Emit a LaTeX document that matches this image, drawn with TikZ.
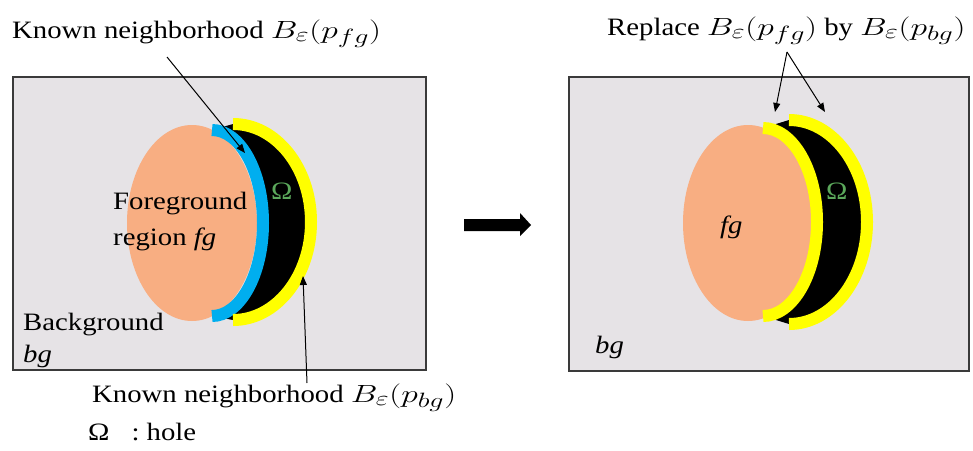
\documentclass[tikz,border=0pt]{standalone}
\usepackage{fontspec}
\setmainfont{Liberation Serif}[FakeStretch=1.15]
\usetikzlibrary{arrows.meta}
\definecolor{panelgrey}{HTML}{E6E3E6}
\definecolor{fgorange}{HTML}{F8AE82}
\definecolor{nbblue}{HTML}{00AEEF}
\definecolor{nbyellow}{HTML}{FFFF00}
\definecolor{omgreen}{HTML}{5BA85B}
\definecolor{frame}{HTML}{3A3A3A}
\newcommand{\wmath}[1]{\scalebox{1.35}[1]{\fontsize{30}{32}\selectfont$#1$}}
\newcommand{\Bnb}[1]{\wmath{B_\varepsilon(p_{#1})}}
\tikzset{
  panel/.style={fill=panelgrey, draw=frame, line width=1.4pt},
  lbl/.style={inner sep=0pt, anchor=base west, font=\fontsize{25}{30}\selectfont},
  pointer/.style={draw=black, line width=1pt, -{Triangle[length=9pt,width=7pt]}},
  band/.style={line width=12pt},
}
\begin{document}
\begin{tikzpicture}[x=1pt,y=-1pt]
\useasboundingbox (0,0) rectangle (973,450);
% panels
\path[panel] (13,77) rectangle (426,370);
\path[panel] (569,77) rectangle (969,371);

% ---------- left panel shapes ----------
\fill[fgorange] (192,223) ellipse [x radius=65, y radius=98];
\fill[black] (233,124) arc[start angle=-90, end angle=90, x radius=78, y radius=98]
   -- (212,316) arc[start angle=90, end angle=-90, x radius=51, y radius=93] -- cycle;
\draw[band, nbblue] (212,130) arc[start angle=-90, end angle=90, x radius=51, y radius=93];
\draw[band, nbyellow] (233,124) arc[start angle=-90, end angle=90, x radius=78, y radius=98];

% ---------- right panel shapes ----------
\fill[fgorange] (748,223) ellipse [x radius=65, y radius=98];
\fill[black] (789,120) arc[start angle=-90, end angle=90, x radius=78, y radius=102]
   -- (763,316) arc[start angle=90, end angle=-90, x radius=54, y radius=94] -- cycle;
\draw[band, nbyellow] (763,128) arc[start angle=-90, end angle=90, x radius=54, y radius=94];
\draw[band, nbyellow] (789,120) arc[start angle=-90, end angle=90, x radius=78, y radius=102];

% ---------- big arrow ----------
\fill[black] (464,219) -- (520,219) -- (520,213) -- (531,225) -- (520,236) -- (520,231) -- (464,231) -- cycle;

% ---------- texts ----------
\node[lbl] (knownfg) at (12,38) {Known neighborhood \Bnb{fg}};
\node[lbl] (fore) at (113,209) {Foreground};
\node[lbl] (region) at (113,245) {region \textit{fg}};
\node[lbl] (omegaL) at (271,199) {\textcolor{omgreen}{Ω}};
\node[lbl] (backg) at (23,330) {Background};
\node[lbl] (bgL) at (23,362) {\textit{bg}};
\node[lbl] (knownbg) at (92,402) {Known neighborhood \Bnb{bg}};
\node[lbl] (hole) at (88,440) {Ω\hspace{22pt}: hole};
\node[lbl] (replace) at (607,35) {Replace \Bnb{fg} by \Bnb{bg}};
\node[lbl] (fgR) at (720,233) {\textit{fg}};
\node[lbl] (omegaR) at (826,199) {\textcolor{omgreen}{Ω}};
\node[lbl] (bgR) at (595,353) {\textit{bg}};

% ---------- pointers ----------
\coordinate (p1s) at (167,57);
\coordinate (p1e) at (245,153);
\coordinate (p2s) at (307,383);
\coordinate (p2e) at (303,276);
\coordinate (p3s) at (787,52);
\coordinate (p3a) at (775,112);
\coordinate (p3b) at (825,112);
\draw[pointer] (p1s) -- (p1e);
\draw[pointer] (p2s) -- (p2e);
\draw[pointer] (p3s) -- (p3a);
\draw[pointer] (p3s) -- (p3b);
\end{tikzpicture}
\end{document}
